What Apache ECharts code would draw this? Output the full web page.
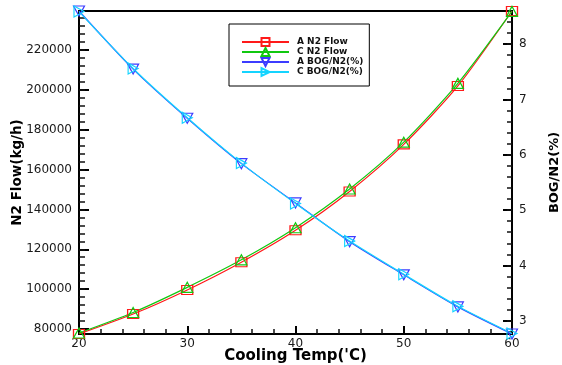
<!DOCTYPE html>
<html>
<head>
<meta charset="utf-8">
<script src="https://cdn.jsdelivr.net/npm/echarts@6/dist/echarts.min.js"></script>
<style>
  html, body { margin: 0; padding: 0; background: #fff; }
  #chart { width: 562px; height: 365px; }
</style>
</head>
<body>
<div id="chart"></div>
<script>
// Cooling temperature (°C) on the x axis
var temps = [20, 25, 30, 35, 40, 45, 50, 55, 60];

// Nitrogen flow (kg/h), left axis
var flowA = [77500, 87500, 99600, 113500, 129500, 149000, 172600, 201900, 239500];
var flowC = [78000, 88300, 100900, 114700, 130800, 150200, 173700, 203200, 239300];

// BOG / N2 ratio (%), right axis
var bogA = [8.60, 7.55, 6.66, 5.84, 5.13, 4.43, 3.83, 3.25, 2.76];
var bogC = [8.59, 7.56, 6.67, 5.85, 5.12, 4.44, 3.84, 3.26, 2.77];

// Axis tick values
var flowMajor = [80000, 100000, 120000, 140000, 160000, 180000, 200000, 220000];
var flowMinor = [];
for (var v = 80000; v <= 236000; v += 4000) flowMinor.push(v);
var bogMajor = [3, 4, 5, 6, 7, 8];
var bogMinor = [];
for (var b = 28; b <= 86; b += 2) bogMinor.push(b / 10);

var FLOW_MIN = 77500, FLOW_MAX = 239500;
var BOG_MIN = 2.76, BOG_MAX = 8.60;

var labelFont = { fontFamily: 'DejaVu Sans', fontSize: 12, color: '#1a1a1a' };
var nameFont = { fontFamily: 'DejaVu Sans', fontWeight: 'bold', color: '#000' };
var plain = function (val) { return String(val); };

function pairs(xs, ys) {
  return xs.map(function (x, i) { return [x, ys[i]]; });
}

var chart = echarts.init(document.getElementById('chart'), null, { renderer: 'canvas' });

var option = {
  animation: false,
  backgroundColor: '#fff',
  grid: {
    left: 79, right: 50, top: 11, bottom: 31,
    outerBoundsMode: 'none', containLabel: false,
    show: true, borderColor: '#000', borderWidth: 2, backgroundColor: 'transparent'
  },
  legend: {
    orient: 'vertical',
    left: 229, top: 24,
    padding: [13, 6, 9, 12],
    itemWidth: 47, itemHeight: 10, itemGap: 0,
    borderColor: '#000', borderWidth: 1,
    textStyle: { fontFamily: 'DejaVu Sans', fontWeight: 'bold', fontSize: 9, color: '#111', padding: [0, 0, 0, 3] },
    data: ['A N2 Flow', 'C N2 Flow', 'A BOG/N2(%)', 'C BOG/N2(%)']
  },
  xAxis: {
    type: 'value', min: 20, max: 60, interval: 10,
    name: "Cooling Temp('C)", nameLocation: 'middle', nameGap: 15, nameMoveOverlap: false,
    nameTextStyle: Object.assign({}, nameFont, { fontSize: 15 }),
    axisLine: { lineStyle: { color: '#000', width: 2 } },
    axisTick: { inside: true, length: 8, lineStyle: { color: '#000', width: 2 } },
    minorTick: { show: true, splitNumber: 5, length: 5, lineStyle: { color: '#111', width: 1.5 } },
    axisLabel: Object.assign({ margin: 4, formatter: plain }, labelFont),
    splitLine: { show: false }
  },
  yAxis: [
    {
      type: 'value', position: 'left', min: FLOW_MIN, max: FLOW_MAX,
      name: 'N2 Flow(kg/h)', nameLocation: 'middle', nameGap: 55, nameRotate: 90, nameMoveOverlap: false,
      nameTextStyle: Object.assign({}, nameFont, { fontSize: 13.5 }),
      axisLine: { show: true, lineStyle: { color: '#000', width: 2 } },
      axisTick: { show: true, inside: true, length: 10, customValues: flowMajor, lineStyle: { color: '#000', width: 2 } },
      axisLabel: Object.assign({ margin: 7, customValues: flowMajor, formatter: plain }, labelFont),
      splitLine: { show: false }
    },
    {
      type: 'value', position: 'right', min: BOG_MIN, max: BOG_MAX,
      name: 'BOG/N2(%)', nameLocation: 'middle', nameGap: 36, nameRotate: 90, nameMoveOverlap: false,
      nameTextStyle: Object.assign({}, nameFont, { fontSize: 13 }),
      axisLine: { show: true, lineStyle: { color: '#000', width: 2 } },
      axisTick: { show: true, inside: true, length: 9, customValues: bogMajor, lineStyle: { color: '#000', width: 2 } },
      axisLabel: Object.assign({ margin: 7, customValues: bogMajor, formatter: plain }, labelFont),
      splitLine: { show: false }
    },
    {
      // minor ticks for the flow axis
      type: 'value', position: 'left', min: FLOW_MIN, max: FLOW_MAX,
      axisLine: { show: false },
      axisTick: { show: true, inside: true, length: 6, customValues: flowMinor, lineStyle: { color: '#111', width: 1.5 } },
      axisLabel: { show: false },
      splitLine: { show: false }
    },
    {
      // minor ticks for the ratio axis
      type: 'value', position: 'right', min: BOG_MIN, max: BOG_MAX,
      axisLine: { show: false },
      axisTick: { show: true, inside: true, length: 5, customValues: bogMinor, lineStyle: { color: '#111', width: 1.5 } },
      axisLabel: { show: false },
      splitLine: { show: false }
    }
  ],
  series: [
    {
      name: 'A N2 Flow', type: 'line', yAxisIndex: 0, smooth: 0.25,
      data: pairs(temps, flowA),
      symbol: 'rect', symbolSize: [11, 9],
      lineStyle: { color: '#ff1a1a', width: 1.2 },
      itemStyle: { color: 'rgba(255,255,255,0)', borderColor: '#ff1a1a', borderWidth: 1.2 }
    },
    {
      name: 'C N2 Flow', type: 'line', yAxisIndex: 0, smooth: 0.25,
      data: pairs(temps, flowC),
      symbol: 'triangle', symbolSize: [11, 10],
      lineStyle: { color: '#10c810', width: 1.2 },
      itemStyle: { color: 'rgba(255,255,255,0)', borderColor: '#10c810', borderWidth: 1.2 }
    },
    {
      name: 'A BOG/N2(%)', type: 'line', yAxisIndex: 1, smooth: 0.25,
      data: pairs(temps, bogA),
      symbol: 'triangle', symbolSize: [11, 10], symbolRotate: 180,
      lineStyle: { color: '#3c3cff', width: 1.2 },
      itemStyle: { color: 'rgba(255,255,255,0)', borderColor: '#3c3cff', borderWidth: 1.2 }
    },
    {
      name: 'C BOG/N2(%)', type: 'line', yAxisIndex: 1, smooth: 0.25,
      data: pairs(temps, bogC),
      symbol: 'triangle', symbolSize: [11, 10], symbolRotate: -90,
      lineStyle: { color: '#14d4ff', width: 1.2 },
      itemStyle: { color: 'rgba(255,255,255,0)', borderColor: '#14d4ff', borderWidth: 1.2 }
    }
  ]
};

chart.setOption(option);
</script>
</body>
</html>
